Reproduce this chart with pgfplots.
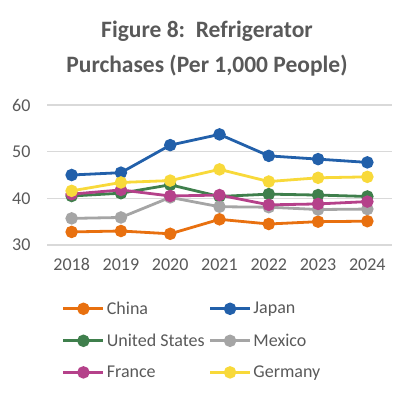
\documentclass[border=0pt]{standalone}
\usepackage{pgfplots}
\pgfplotsset{compat=1.18}
\usepackage{fontspec}
\setmainfont{Carlito}
\definecolor{cChina}{HTML}{E8700F}
\definecolor{cJapan}{HTML}{2260AA}
\definecolor{cUS}{HTML}{3F7F4C}
\definecolor{cMexico}{HTML}{A5A5A5}
\definecolor{cFrance}{HTML}{B5418A}
\definecolor{cGermany}{HTML}{F8D93A}
\definecolor{txt}{HTML}{595959}
\definecolor{gridc}{HTML}{D9D9D9}
\begin{document}
\begin{tikzpicture}[x=1pt,y=1pt]
\path[use as bounding box] (0,0) rectangle (414,398);
\node[font=\bfseries\fontsize{23.5}{26}\selectfont, text=txt] at (207,367) {Figure 8:\ \ Refrigerator};
\node[font=\bfseries\fontsize{23.5}{26}\selectfont, text=txt] at (207,332) {Purchases (Per 1,000 People)};
\begin{axis}[
  at={(47pt,153pt)}, anchor=south west,
  scale only axis, width=345pt, height=140pt,
  xmin=2017.5, xmax=2024.5, ymin=30, ymax=60,
  ytick={30,40,50,60},
  xtick={2018,...,2024},
  minor xtick={2017.5,2018.5,...,2024.5},
  major tick length=0pt, minor tick length=5pt,
  tick align=outside,
  axis x line*=bottom, axis y line*=left,
  x axis line style={gridc, line width=1.3pt, -},
  y axis line style={draw=none},
  xtick style={draw=none},
  minor x tick style={gridc, line width=1.3pt},
  ytick style={draw=none},
  ymajorgrids, grid style={gridc, line width=1.3pt},
  tick label style={font=\fontsize{18}{20}\selectfont, text=txt},
  /pgf/number format/assume math mode=true,
  x tick label style={/pgf/number format/1000 sep={}, yshift=-10pt},
  y tick label style={xshift=-13pt},
  every axis plot/.append style={line width=2.8pt, mark=*, mark size=4.8pt, mark options={solid}},
  legend columns=2,
  legend style={at={(0.043,-0.39)}, anchor=north west, draw=none, fill=none,
    font=\fontsize{18}{20}\selectfont, text=txt,
    /tikz/every even column/.append style={column sep=2pt},
    row sep=14pt, inner sep=0pt},
  legend cell align=left,
  legend image code/.code={
    \draw[#1, line width=2.8pt] (0pt,0pt) -- (40pt,0pt);
    \fill[#1] (20pt,0pt) circle (4.8pt);
  },
]
\addplot[color=cChina] coordinates {(2018,32.8)(2019,33.0)(2020,32.4)(2021,35.5)(2022,34.5)(2023,35.0)(2024,35.1)};
\addlegendentry{China}
\addplot[color=cJapan] coordinates {(2018,45.0)(2019,45.5)(2020,51.4)(2021,53.7)(2022,49.1)(2023,48.4)(2024,47.7)};
\addlegendentry{Japan}
\addplot[color=cUS] coordinates {(2018,40.5)(2019,41.1)(2020,42.9)(2021,40.4)(2022,40.9)(2023,40.7)(2024,40.4)};
\addlegendentry{United States}
\addplot[color=cMexico] coordinates {(2018,35.7)(2019,35.9)(2020,40.2)(2021,38.2)(2022,38.1)(2023,37.6)(2024,37.7)};
\addlegendentry{Mexico}
\addplot[color=cFrance] coordinates {(2018,40.9)(2019,41.8)(2020,40.5)(2021,40.7)(2022,38.6)(2023,38.8)(2024,39.3)};
\addlegendentry{France}
\addplot[color=cGermany] coordinates {(2018,41.6)(2019,43.4)(2020,43.8)(2021,46.2)(2022,43.6)(2023,44.4)(2024,44.6)};
\addlegendentry{Germany}
\end{axis}
\end{tikzpicture}
\end{document}
